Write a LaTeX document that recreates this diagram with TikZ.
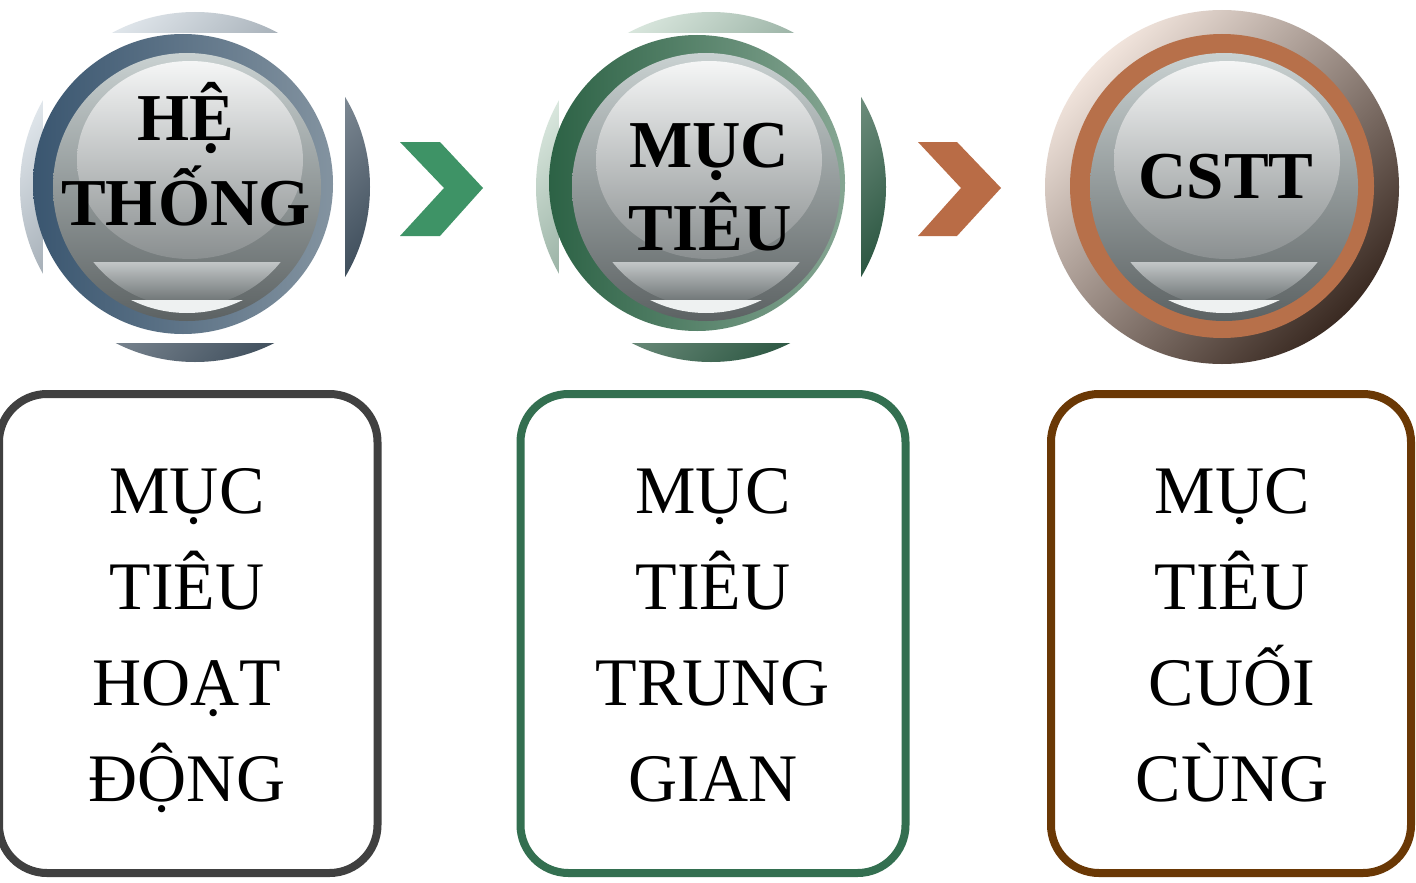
\documentclass[tikz,border=0pt]{standalone}
\usepackage{fontspec}
\setmainfont{Liberation Serif}
\definecolor{sphtop}{HTML}{C9D1D1}
\definecolor{sphbot}{HTML}{5C6263}
\definecolor{hitop}{HTML}{F5F6F6}
\definecolor{hibot}{HTML}{8A8F90}
\definecolor{bandtop}{HTML}{C2C6C7}
\definecolor{bandbot}{HTML}{747A7B}
\definecolor{cresc}{HTML}{EEF1F1}
\definecolor{hAl}{HTML}{E3E9EE}
\definecolor{hAd}{HTML}{3E4D5B}
\definecolor{rAd}{HTML}{3A5670}
\definecolor{rAl}{HTML}{8393A0}
\definecolor{hBl}{HTML}{DCE9E0}
\definecolor{hBd}{HTML}{2A5540}
\definecolor{rBd}{HTML}{2C6245}
\definecolor{rBl}{HTML}{86A693}
\definecolor{hCl}{HTML}{F1E4DC}
\definecolor{hCd}{HTML}{3A2A22}
\definecolor{cu}{HTML}{B7704A}
\definecolor{cud}{HTML}{784830}
\definecolor{chevG}{HTML}{3E9366}
\definecolor{chevO}{HTML}{B96C46}
\definecolor{boxA}{HTML}{404040}
\definecolor{boxB}{HTML}{336F50}
\definecolor{boxC}{HTML}{6A3805}
\tikzset{
  sphere/.pic={
    \shade[top color=sphtop, bottom color=sphbot] (0,0) circle (134);
    \begin{scope}
      \clip (0,0) circle (120);
      \shade[top color=bandtop, bottom color=bandbot] (-130,75) rectangle (130,112);
    \end{scope}
    \begin{scope}
      \clip (0,0) circle (126);
      \fill[cresc] (-130,113) rectangle (130,140);
    \end{scope}
    \shade[top color=hitop, bottom color=hibot] (3,-27) ellipse (113 and 99);
  },
  circtxt/.style={anchor=base, inner sep=0pt, font=\fontsize{67}{80}\selectfont\bfseries},
  boxtxt/.style={anchor=base, inner sep=0pt, font=\fontsize{68}{80}\selectfont},
  rbox/.style={line width=8pt, rounded corners=48pt, fill=white}
}
\begin{document}
\begin{tikzpicture}[x=1pt,y=-1pt]
\useasboundingbox[fill=white] (0,0) rectangle (1416,883);

% ---- circle 1
\shade[top color=hAl, bottom color=hAd, shading angle=45] (195,187) circle (175);
\fill[white] (43,33) rectangle (345,343);
\shade[left color=rAd, right color=rAl] (183,184) circle (150);
\pic at (187,187) {sphere};
\node[circtxt] (c1a) at (186,140) {HỆ};
\node[circtxt] (c1b) at (186,225) {THỐNG};

% ---- circle 2
\shade[top color=hBl, bottom color=hBd, shading angle=45] (711,187) circle (175);
\fill[white] (559,33) rectangle (861,343);
\shade[left color=rBd, right color=rBl] (697,183) circle (148);
\pic at (706,187) {sphere};
\node[circtxt] (c2a) at (709,167) {MỤC};
\node[circtxt] (c2b) at (710,250) {TIÊU};

% ---- circle 3
\shade[top color=hCl, bottom color=hCd, shading angle=45] (1222,187) circle (177);
\shade[top color=cu, middle color=cud, bottom color=cu, shading angle=45] (1222,186) circle (152);
\pic at (1224,187) {sphere};
\node[circtxt] (c3a) at (1226,198) {CSTT};

% ---- chevrons
\fill[chevG] (400,142) -- (440,142) -- (483,188) -- (440,236) -- (400,236) -- (444,188) -- cycle;
\fill[chevO] (918,142) -- (957,142) -- (1001,188) -- (957,236) -- (918,236) -- (961,188) -- cycle;

% ---- boxes
\draw[rbox, draw=boxA] (-1,394) rectangle (377.5,873);
\draw[rbox, draw=boxB] (520.5,394) rectangle (905.5,873);
\draw[rbox, draw=boxC] (1051,394) rectangle (1411,873);

\node[boxtxt] (b1a) at (187,513) {MỤC};
\node[boxtxt] (b1b) at (187,609) {TIÊU};
\node[boxtxt] (b1c) at (187,705) {HOẠT};
\node[boxtxt] (b1d) at (187,801) {ĐỘNG};

\node[boxtxt] (b2a) at (713,513) {MỤC};
\node[boxtxt] (b2b) at (713,609) {TIÊU};
\node[boxtxt] (b2c) at (713,705) {TRUNG};
\node[boxtxt] (b2d) at (713,801) {GIAN};

\node[boxtxt] (b3a) at (1232,513) {MỤC};
\node[boxtxt] (b3b) at (1232,609) {TIÊU};
\node[boxtxt] (b3c) at (1232,705) {CUỐI};
\node[boxtxt] (b3d) at (1232,801) {CÙNG};
\end{tikzpicture}
\end{document}
